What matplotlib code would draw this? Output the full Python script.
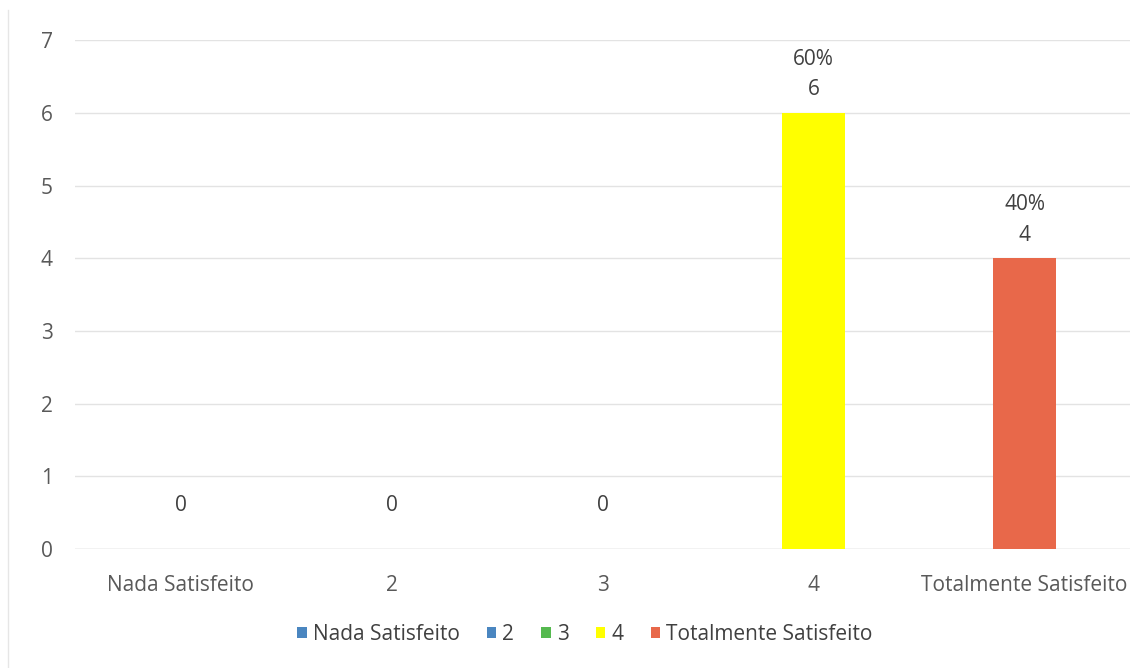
import matplotlib.pyplot as plt
from matplotlib.patches import Patch
from matplotlib.lines import Line2D

categories = ['Nada Satisfeito', '2', '3', '4', 'Totalmente Satisfeito']
counts = [0, 0, 0, 6, 4]
percents = [None, None, None, '60%', '40%']
colors = ['#4a86c0', '#4a86c0', '#55b94f', '#ffff00', '#e8684a']
y_ticks = [0, 1, 2, 3, 4, 5, 6, 7]

plt.rcParams['font.family'] = ['Open Sans', 'DejaVu Sans']
FS = 15

fig = plt.figure(figsize=(11.37, 6.68), dpi=100)
ax = fig.add_axes([0.066, 0.178, 0.928, 0.762])

x = list(range(len(categories)))
ax.bar(x, counts, width=0.30, color=colors, zorder=3)

for xi, v, p in zip(x, counts, percents):
    label = f'{p}\n{v}' if p else str(v)
    off = 9 if p else 24
    ax.annotate(label, (xi, v), xytext=(0, off), textcoords='offset points',
                ha='center', va='bottom', fontsize=FS, color='#404040',
                linespacing=1.6)

ax.set_xlim(-0.5, len(categories) - 0.5)
ax.set_ylim(0, 7)
ax.set_yticks(y_ticks)
ax.set_xticks(x)
ax.set_xticklabels(categories)
ax.tick_params(axis='both', length=0, labelsize=FS, colors='#595959')
ax.tick_params(axis='y', pad=16)
ax.tick_params(axis='x', pad=19)
ax.grid(axis='y', color='#e3e3e3', linewidth=1, zorder=0)
for s in ax.spines.values():
    s.set_visible(False)
ax.axhline(0, color='#d9d9d9', linewidth=1, zorder=2)

handles = [Patch(facecolor=c, edgecolor='none') for c in colors]
fig.legend(handles, categories, loc='center', bbox_to_anchor=(0.5145, 0.05),
           ncol=5, frameon=False, fontsize=FS, handlelength=0.45,
           handleheight=0.45, handletextpad=0.3, columnspacing=1.3,
           labelcolor='#404040')

# faint chart border on the left
fig.add_artist(Line2D([0.007, 0.007], [0.0, 0.985], color='#e6e6e6',
                      linewidth=1, transform=fig.transFigure))

fig.savefig('out.png', dpi=100)
